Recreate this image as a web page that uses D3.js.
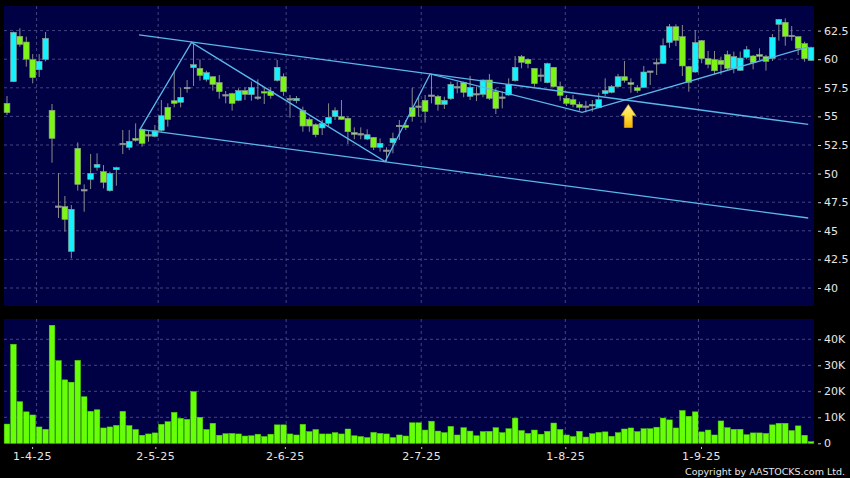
<!DOCTYPE html>
<html><head><meta charset="utf-8">
<script src="https://cdn.jsdelivr.net/npm/d3@7"></script>
<style>html,body{margin:0;padding:0;background:#000}svg{display:block}text{font-family:"DejaVu Sans",sans-serif}</style>
</head><body><svg id="c" width="850" height="478"></svg>
<script>
const open=[56.14,58.04,62,61.5,59.96,59.08,59.99,55.53,47.11,47.11,43.2,52.21,48.54,49.5,50.55,50.17,48.51,50.34,52.59,52.3,53.08,53.84,53.34,53.26,53.78,55.79,56.37,56.23,57.48,59.26,59.2,58.24,58.47,57.95,56.84,56.99,56.4,57.25,56.9,56.64,57.16,57.19,58.15,58.47,
56.49,56.37,55.5,54.74,54.28,53.99,54.39,54.98,54.98,54.83,53.58,53.43,53.02,53.17,52.3,52,52.7,54.16,54.22,55.76,55.85,56.4,56.81,56.75,56.05,56.55,57.54,57.95,56.75,56.93,56.93,58.18,57.16,56.64,56.87,58.12,60.22,59.99,59.2,58.56,57.95,59.29,57.6,
56.58,56.46,56.05,55.85,55.91,55.76,56.99,57.1,57.6,58.47,57.95,57.51,57.54,58.91,59.64,59.64,61.47,62.84,61.97,59.35,58.88,61.62,60.05,59.96,59.9,60.4,59.2,59.03,60.16,60.28,60.4,60.22,60.07,63.05,63.22,62.03,61.97,61.36,59.9];
const close=[55.33,62.35,61.3,60,58.39,59.81,61.82,53.08,47.11,46,46.88,49.06,48.54,50.02,50.81,49.24,50.02,50.52,52.59,52.82,52.91,52.64,53.34,53.75,55.06,54.74,56.14,56.67,57.48,59.52,58.59,58.82,57.8,57.16,56.84,56.14,57.25,56.93,57.51,56.64,57.05,56.81,59.29,57.16,
56.49,56.58,54.16,54.16,53.4,54.39,54.92,55.5,54.74,53.66,53.43,53.43,53.4,52.3,52.65,52,53.08,54.16,54.04,54.98,55.85,55.44,56.81,56.05,56.4,57.8,57.54,57.1,57.54,56.93,58.18,56.58,55.7,56.64,57.8,59.29,59.73,59.61,57.86,58.56,59.61,57.6,56.84,
56.14,56.05,55.79,55.85,56.05,56.46,57.25,57.6,58.47,58.15,57.8,57.25,58.88,58.91,59.64,61.18,62.84,61.65,59.41,57.98,61.45,60.05,59.55,58.99,59.55,59.2,60.22,60.1,60.83,59.7,60.25,59.81,61.91,63.48,62,62.03,60.95,60.05,61.01];
const high=[56.78,62.41,62.7,61.97,60.45,60.45,62.38,56.08,50.05,48.04,47.25,52.73,49.06,51.71,51.77,50.75,50.17,50.6,53.81,53.81,54.39,53.96,53.81,54.25,56.43,56.14,58.91,57.51,58.18,61.39,59.99,59,58.47,58.62,57.22,57.07,57.45,57.54,58.04,58.24,57.54,57.54,59.93,58.76,
56.87,56.78,55.85,54.92,54.39,54.69,56.14,55.79,56.43,54.98,54.04,54.04,53.87,53.17,53.08,52.3,53.58,54.69,54.69,57.51,56.67,56.87,58.68,56.87,56.72,58.04,58.04,58.04,58.53,57.6,58.24,58.71,57.45,57.16,58.33,60.28,60.37,60.07,59.2,59.2,59.7,59.29,58.04,
56.87,56.87,56.29,56.35,56.43,57.07,58.33,57.74,58.71,59.84,58.33,57.74,59.41,58.97,60.07,61.82,63.08,63.05,62.99,59.41,62.55,61.68,60.72,60.72,60.22,60.75,60.66,60.66,61.15,60.37,60.95,60.37,62.2,63.48,63.57,62.9,61.97,61.53,61.1];
const low=[55.12,58,61.1,59.35,57.89,58.44,59.81,50.95,46.12,44.92,42.59,48.51,46.67,48.65,50.26,48.71,48.42,48.94,51.71,52.06,52.79,52.35,52.79,53.17,53.66,54.1,55.79,55.79,57.07,57.66,58.12,58.04,57.25,56.55,56.14,55.5,56.32,56.43,56.37,56.43,56.08,56.55,58.04,56.8,
54.89,56.14,53.66,53.66,53.17,53.37,54.16,54.69,54.69,52.59,53,53,52.94,52.06,51.92,51.04,51.77,52.94,53.81,54.54,54.98,54.45,56.14,55.5,55.65,56.43,57.02,56.67,56.43,56.34,56.67,56.43,55.21,55.7,56.81,58.04,59.2,59.2,57.6,58.04,57.89,57.51,56.37,
55.91,55.79,55.5,55.35,55.41,55.7,56.78,57.02,57.54,57.95,57.07,57.07,57.48,57.74,58.62,59.58,61,61.15,58.53,57.16,58.82,59.64,59.2,58.71,58.65,59,58.77,58.97,59.99,59.11,59.93,59,59.84,61.62,61.18,61.62,60.37,59.78,59.84];
const volume=[7.4,38.1,16,12.1,10.9,6.3,5.4,45.4,31.8,24.4,23.5,31.9,17.9,12.3,12.9,5.9,6.3,6.9,12.3,6.8,5.3,3.1,3.6,4,7.3,8.3,11.9,9.6,9.2,19.9,10,5.3,7.7,3.1,3.7,3.8,3.6,2.8,2.9,3.5,2.6,3.5,7.1,7.1,
3.6,3.2,7.3,4.5,5.3,3.6,3.6,4.1,3.6,5.5,2.9,2.6,2.2,4.2,3.8,3.6,2.2,3.2,2.8,7.9,7.9,5.1,8.5,4.7,4.1,6.5,3.2,6,4.7,2.9,4.5,4.6,6,4.1,5.6,9.7,4.9,3.8,5.1,3.5,4.6,7.8,5.3,
3.2,2.6,4.6,2.4,3.7,4.2,4.4,2.7,4.1,5.5,5.9,4.5,5.6,5.6,6.2,9.7,9,5.9,12.6,10.4,12.1,4.4,5.1,3.2,8.6,6,5.4,5.4,3.3,4,4,3.8,7.1,7.7,7.7,4.9,6.7,3.1,0.6];
const priceTicks=[40,42.5,45,47.5,50,52.5,55,57.5,60,62.5];
const volumeTicks=[0,10,20,30,40];
const dateLabels=["1-4-25","2-5-25","2-6-25","2-7-25","1-8-25","1-9-25"];
const dateTickIdx=[3.9,23.06,43.2,64.4,86.8,107.9];
const dateGridIdx=[4.6,23.5,43.4,64.4,86.8,107.5];
const trendLines=[
  [[20.53,62.12],[124.57,54.3]],
  [[20.68,53.87],[124.57,46.12]],
  [[20.68,53.87],[28.69,61.46],[58.79,51.06],[65.79,58.71],[89.42,55.36],[124.57,61.07]]
];
const arrowIdx=96.6, arrowPrice=56.04;

const svg=d3.select("#c");
svg.append("rect").attr("width",850).attr("height",478).attr("fill","#000");
const L=4,R=814,pT=6,pB=306,vT=319,vB=444;
const bg="#000044",gridC="#44447f",textC="#e6e6e6";
const x=d3.scaleLinear().domain([0,125]).range([7,811]);
const y=d3.scaleLinear().domain([40,62.5]).range([288,30.6]);
const v=d3.scaleLinear().domain([0,40]).range([443.3,339.3]);

svg.append("rect").attr("x",L).attr("y",pT).attr("width",R-L).attr("height",pB-pT).attr("fill",bg);
svg.append("rect").attr("x",L).attr("y",vT).attr("width",R-L).attr("height",vB-vT).attr("fill",bg);

function grid(g,ys,top,bot){
  g.selectAll(".h").data(ys).join("line").attr("x1",L).attr("x2",R).attr("y1",d=>d).attr("y2",d=>d);
  g.selectAll(".v").data(dateGridIdx).join("line").attr("class","v").attr("x1",d=>x(d)).attr("x2",d=>x(d)).attr("y1",top).attr("y2",bot);
  g.selectAll("line").attr("stroke",gridC).attr("stroke-width",1).attr("stroke-dasharray","3,3");
}
grid(svg.append("g"),priceTicks.map(y),pT,pB);
grid(svg.append("g"),volumeTicks.slice(1).map(v),vT,vB);

// candles
const n=d3.range(open.length);
const cg=svg.append("g");
cg.selectAll("line").data(n).join("line")
  .attr("x1",i=>x(i)).attr("x2",i=>x(i)).attr("y1",i=>y(high[i])).attr("y2",i=>y(low[i]))
  .attr("stroke","#8a8a8a").attr("stroke-width",1);
cg.selectAll("rect").data(n).join("rect")
  .attr("x",i=>x(i)-2.9).attr("width",5.8)
  .attr("y",i=>open[i]===close[i]?y(open[i])-0.7:y(Math.max(open[i],close[i])))
  .attr("height",i=>Math.max(1.4,Math.abs(y(open[i])-y(close[i]))))
  .attr("fill",i=>open[i]===close[i]?"#9a9a9a":close[i]>open[i]?"#14f2ff":"#7cf516")
  .attr("stroke","#8f9f90").attr("stroke-width",0.6);

// trend lines
const ln=d3.line().x(d=>x(d[0])).y(d=>y(d[1]));
svg.append("g").selectAll("path").data(trendLines).join("path")
  .attr("d",ln).attr("fill","none").attr("stroke","#5ab8e8").attr("stroke-width",1.3);

// arrow
const ax=x(arrowIdx), ay=y(arrowPrice);
const defs=svg.append("defs");
const gr=defs.append("linearGradient").attr("id","ag").attr("x1",0).attr("x2",0).attr("y1",0).attr("y2",1);
gr.append("stop").attr("offset","0%").attr("stop-color","#fff0a0");
gr.append("stop").attr("offset","50%").attr("stop-color","#ffdf3a");
gr.append("stop").attr("offset","100%").attr("stop-color","#f4b400");
svg.append("path")
  .attr("d",d3.line()([[ax,ay],[ax+7.5,ay+11],[ax+4,ay+11],[ax+4,ay+23],[ax-4,ay+23],[ax-4,ay+11],[ax-7.5,ay+11]])+"Z")
  .attr("fill","url(#ag)").attr("stroke","#d9a030").attr("stroke-width",0.7);

// volume bars
svg.append("g").selectAll("rect").data(n).join("rect")
  .attr("x",i=>x(i)-2.8).attr("width",5.6)
  .attr("y",i=>v(volume[i])).attr("height",i=>v(0)-v(volume[i]))
  .attr("fill","#66ff08").attr("stroke","#50d008").attr("stroke-width",0.5);

// axes
function style(g){
  g.select(".domain").remove();
  g.selectAll("line").attr("stroke","#c8c8c8");
  g.selectAll("text").attr("fill",textC).attr("font-size",11).attr("font-family",'"DejaVu Sans",sans-serif');
}
svg.append("g").attr("transform","translate(818,0)")
  .call(d3.axisRight(y).tickValues(priceTicks).tickSize(3).tickPadding(3).tickFormat(d3.format("~g"))).call(style);
svg.append("g").attr("transform","translate(818,0)")
  .call(d3.axisRight(v).tickValues(volumeTicks).tickSize(3).tickPadding(3).tickFormat(d=>d?d+"K":"0")).call(style);
const tickToLabel=new Map(dateTickIdx.map((d,i)=>[d,dateLabels[i]]));
svg.append("g").attr("transform","translate(0,447)")
  .call(d3.axisBottom(x).tickValues(dateTickIdx).tickSize(2).tickPadding(3).tickFormat(d=>tickToLabel.get(d))).call(style)
  .selectAll("text").attr("letter-spacing",0.5);

svg.append("text").attr("x",845).attr("y",475).attr("text-anchor","end")
  .attr("fill",textC).attr("font-size",9.5).text("Copyright by AASTOCKS.com Ltd.");
</script></body></html>
